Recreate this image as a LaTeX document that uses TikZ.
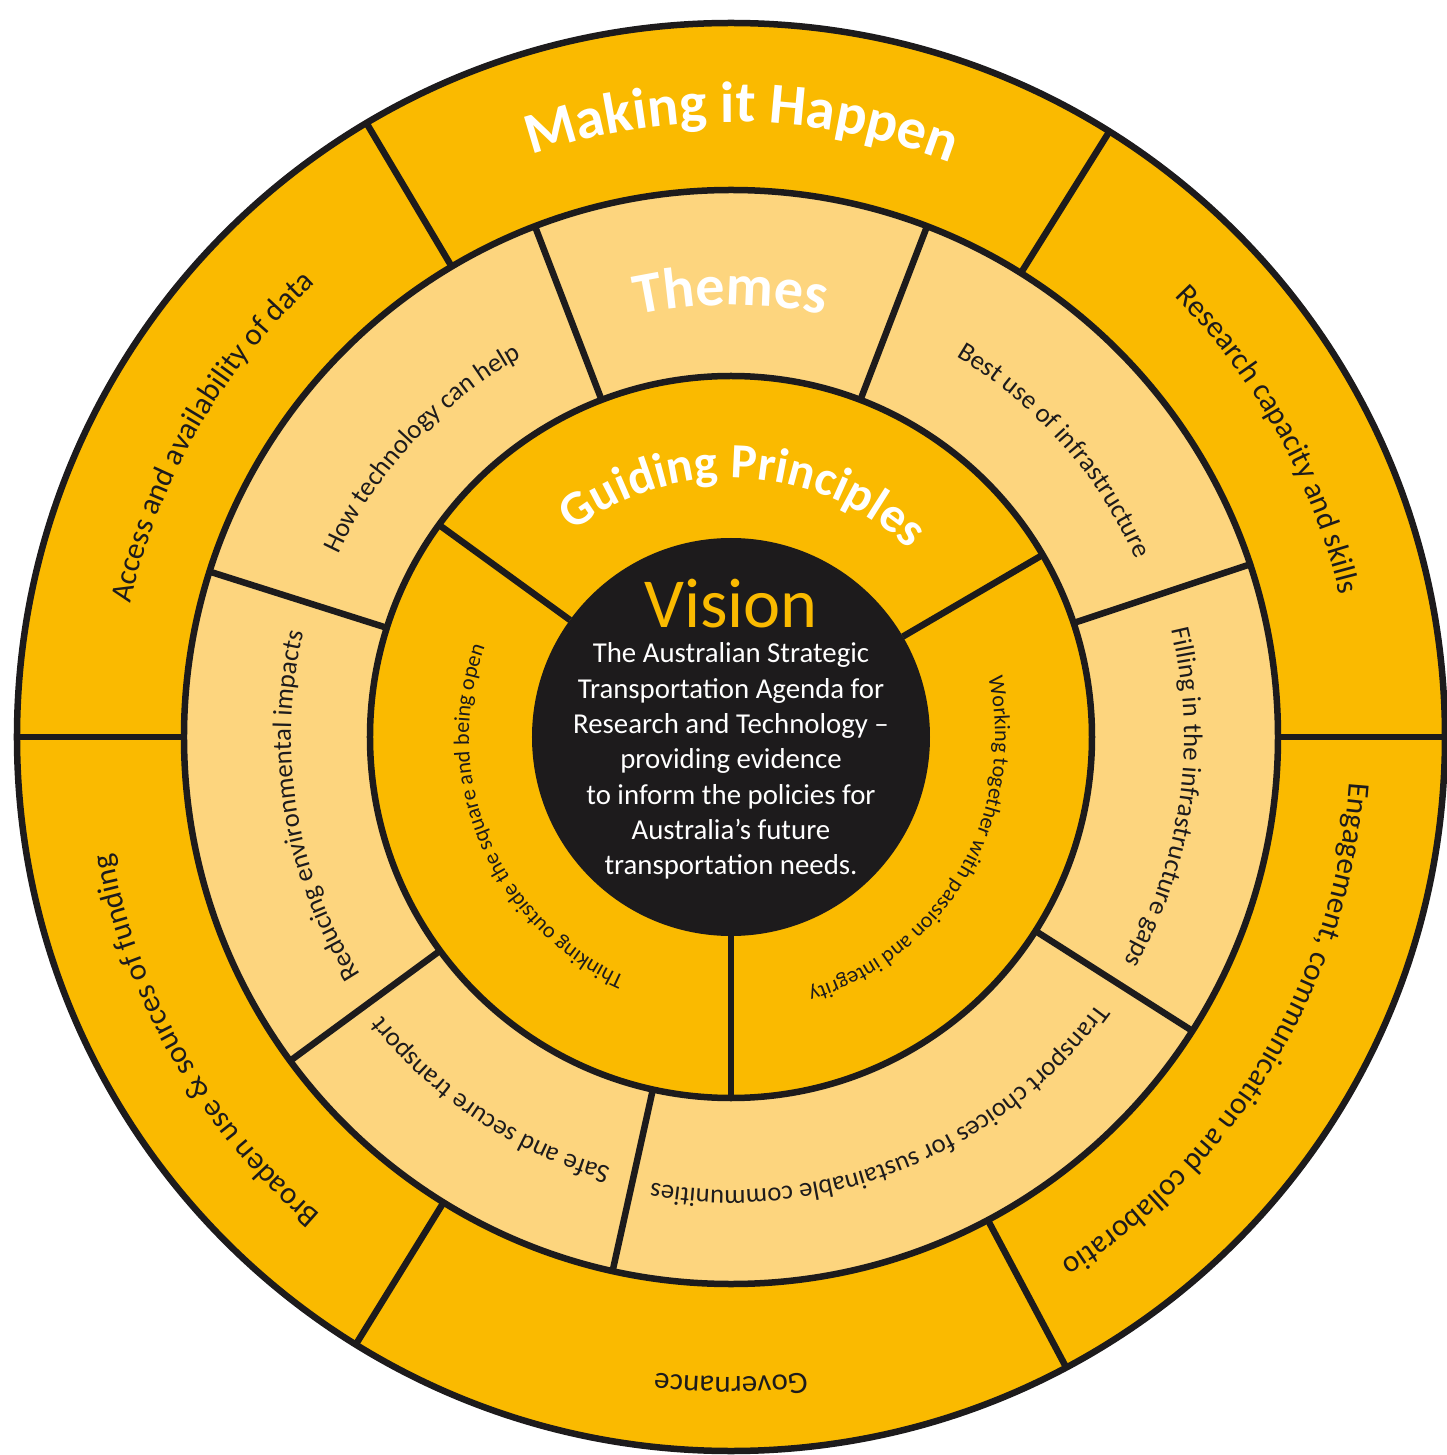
\documentclass[tikz,border=0pt]{standalone}
\usepackage{fontspec}
\setmainfont{Carlito}
\usetikzlibrary{decorations.text}

\definecolor{gold}{HTML}{FABA00}
\definecolor{paleGold}{HTML}{FDD57E}
\definecolor{ink}{HTML}{1D1B1C}

\newcommand{\bighead}{\fontsize{16.5}{20}\selectfont\bfseries\color{white}}
\newcommand{\smallhead}{\fontsize{14}{17}\selectfont\bfseries\color{white}}
\newcommand{\outerlabel}{\fontsize{8.8}{11}\selectfont\color{ink}}
\newcommand{\themelabel}{\fontsize{7.6}{9.5}\selectfont\color{ink}}
\newcommand{\principlelabel}{\fontsize{6.3}{7.5}\selectfont\color{ink}}

\begin{document}
\begin{tikzpicture}[
    ring/.style={draw=ink, line width=0.065cm},
    divider/.style={draw=ink, line width=0.065cm},
    arctext/.style={decorate, decoration={text along path, text align=center, text={#1}}}
  ]
    \useasboundingbox (-7.31,-7.18) rectangle (7.16,7.37);
    \fill[white] (-7.31,-7.18) rectangle (7.16,7.37);

    % rings, outside in
    \draw[ring, fill=gold] (0,0) circle[radius=7.14];
    \draw[ring, fill=paleGold] (0,0) circle[radius=5.47];
    \draw[ring, fill=gold] (0,0) circle[radius=3.61];

    % Making it Happen
    \draw[divider] (0:5.47) -- (0:7.14);
    \draw[divider] (58:5.47) -- (58:7.14);
    \draw[divider] (120.7:5.47) -- (120.7:7.14);
    \draw[divider] (180:5.47) -- (180:7.14);
    \draw[divider] (238.3:5.47) -- (238.3:7.14);
    \draw[divider] (298:5.47) -- (298:7.14);

    % Themes
    \draw[divider] (18.4:3.61) -- (18.4:5.47);
    \draw[divider] (69:3.61) -- (69:5.47);
    \draw[divider] (111:3.61) -- (111:5.47);
    \draw[divider] (162.4:3.61) -- (162.4:5.47);
    \draw[divider] (216.3:3.61) -- (216.3:5.47);
    \draw[divider] (257.5:3.61) -- (257.5:5.47);
    \draw[divider] (327.5:3.61) -- (327.5:5.47);

    % Guiding Principles
    \draw[divider] (30.3:1.99) -- (30.3:3.61);
    \draw[divider] (144:1.99) -- (144:3.61);
    \draw[divider] (270:1.99) -- (270:3.61);

    \fill[ink] (0,0) circle[radius=1.99];

    % headings on the rings
    \path[arctext={|\bighead|Making it Happen}] (129:6.15) arc[start angle=129, end angle=49, radius=6.15];
    \path[arctext={|\bighead|Themes}] (130:4.32) arc[start angle=130, end angle=50, radius=4.32];
    \path[arctext={|\smallhead|Guiding Principles}] (147:2.59) arc[start angle=147, end angle=27, radius=2.59];

    % outer ring
    \path[arctext={|\outerlabel|Access and availability of data}] (190:6.15) arc[start angle=190, end angle=110, radius=6.15];
    \path[arctext={|\outerlabel|Research capacity and skills}] (69:6.25) arc[start angle=69, end angle=-11, radius=6.25];
    \path[arctext={|\outerlabel|Engagement, communication and collaboratio}] (9:6.2) arc[start angle=9, end angle=-71, radius=6.2];
    \path[arctext={|\outerlabel|Governance}] (310:6.4) arc[start angle=310, end angle=230, radius=6.4];
    \path[arctext={|\outerlabel|Broaden use {\&} sources of funding}] (250:6.3) arc[start angle=250, end angle=170, radius=6.3];

    % themes ring
    \path[arctext={|\themelabel|How technology can help}] (177:4.33) arc[start angle=177, end angle=97, radius=4.33];
    \path[arctext={|\themelabel|Best use of infrastructure}] (81.5:4.42) arc[start angle=81.5, end angle=1.5, radius=4.42];
    \path[arctext={|\themelabel|Filling in the infrastructure gaps}] (32:4.53) arc[start angle=32, end angle=-48, radius=4.53];
    \path[arctext={|\themelabel|Transport choices for sustainable communities}] (-23:4.53) arc[start angle=-23, end angle=-113, radius=4.53];
    \path[arctext={|\themelabel|Safe and secure transport}] (276.5:4.47) arc[start angle=276.5, end angle=196.5, radius=4.47];
    \path[arctext={|\themelabel|Reducing environmental impacts}] (229.5:4.4) arc[start angle=229.5, end angle=149.5, radius=4.4];

    % guiding principles ring
    \path[arctext={|\principlelabel|Thinking outside the square and being open}] (263:2.62) arc[start angle=263, end angle=143, radius=2.62];
    \path[arctext={|\principlelabel|Working together with passion and integrity}] (30:2.64) arc[start angle=30, end angle=-90, radius=2.64];

    % vision
    \node[font=\fontsize{20}{24}\selectfont, text=gold, anchor=base] (vision) at (0,1.09) {Vision};
    \node[font=\fontsize{8.2}{10.05}\selectfont, text=white, align=center, anchor=north, inner sep=0pt] (agenda) at (0,0.95)
      {The Australian Strategic\\Transportation Agenda for\\Research and Technology –\\providing evidence\\to inform the policies for\\Australia’s future\\transportation needs.};
\end{tikzpicture}
\end{document}
